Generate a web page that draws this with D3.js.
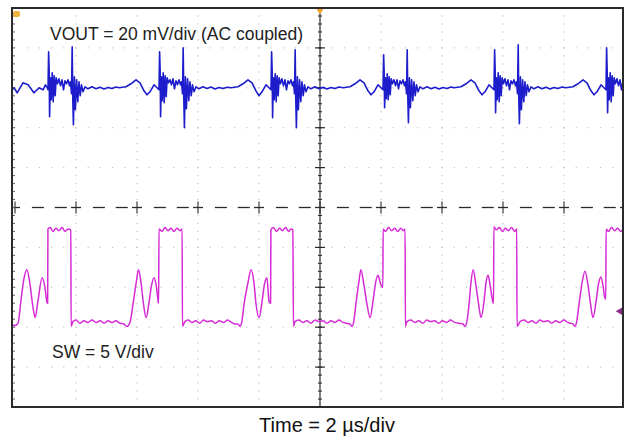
<!DOCTYPE html>
<html>
<head>
<meta charset="utf-8">
<script src="https://cdn.jsdelivr.net/npm/d3@7"></script>
<style>
  html, body { margin: 0; padding: 0; background: #fff; }
  svg { display: block; font-family: "Liberation Sans", Arial, Helvetica, sans-serif; }
</style>
</head>
<body>
<svg id="chart" width="625" height="438"></svg>
<script>
// ---------------- DATA ----------------
// Time axis: 2 µs/div, 10 divisions
const timeDomainUs = [0, 20];
const timeGridUs = [2, 4, 6, 8, 10, 12, 14, 16, 18];
// Vertical graticule: 10 divisions (-5..+5)
const divDomain = [-5, 5];
const divGrid = [-4, -3, -2, -1, 1, 2, 3, 4];

// Channel settings
const voutMvPerDiv = 20;    // VOUT = 20 mV/div (AC coupled)
const voutOffsetDiv = 3;
const swVoltsPerDiv = 5;    // SW = 5 V/div
const swOffsetDiv = -2.6;

// Labels
const voutLabel = "VOUT = 20 mV/div (AC coupled)";
const swLabel = "SW = 5 V/div";
const timeLabel = "Time = 2 µs/div";

// VOUT trace: [time µs, mV]
const voutTrace = [
  [-0.10,-1],[-0.03,0],[0.07,-2.5],[0.26,2.5],[0.43,1.5],[0.62,-2.5],[0.79,0],[0.92,-1],[1.00,1.5],[1.06,0],
  [1.082,-1],[1.102,18],[1.121,8],[1.134,-14.5],[1.161,5],[1.187,-6],[1.220,7.5],[1.252,-7],[1.285,6],[1.318,-4],
  [1.351,5],[1.393,2],[1.443,4.5],[1.492,1],[1.541,4],[1.590,-1],[1.639,3.5],[1.689,2],[1.738,4],[1.787,1],
  [1.820,3],[1.852,-3],[1.875,20.5],[1.895,-6],[1.915,-18.5],[1.948,5.5],[1.980,-11],[2.020,4],[2.059,-7],[2.098,3],
  [2.138,-4],[2.180,1.5],[2.230,-2],[2.295,0.5],[2.393,-0.5],[2.525,0.5],[2.656,-0.5],[2.787,0.3],[2.918,-0.6],[3.049,0.2],
  [3.180,-0.4],[3.312,0.4],
  [3.410,0],[3.639,0.5],[3.803,2],[3.967,4],[4.098,2.5],[4.229,-1.5],[4.328,-3.5],[4.426,-2],[4.557,1.5],[4.655,0],
  [4.721,-1],[4.741,18],[4.760,8],[4.773,-14.5],[4.800,5.5],[4.826,-6.5],[4.859,7.5],[4.891,-7.5],[4.924,6],[4.957,-4.5],
  [4.990,5],[5.032,2.5],[5.082,4],[5.131,1.5],[5.180,4.5],[5.229,-0.5],[5.278,3.5],[5.328,1.5],[5.377,4],[5.426,1.5],
  [5.459,3],[5.491,-3],[5.514,20],[5.534,-5],[5.554,-20],[5.587,5.5],[5.619,-10.5],[5.659,4.5],[5.698,-6.5],[5.737,3],
  [5.777,-4],[5.819,1.5],[5.869,-2],[5.934,0.5],[6.032,-0.5],[6.164,0.5],[6.295,-0.3],[6.426,0.4],[6.557,-0.6],[6.688,0.2],
  [6.819,-0.4],[6.951,0.3],
  [7.082,0],[7.311,0.5],[7.475,2],[7.639,4],[7.770,2.5],[7.901,-1.5],[8.000,-4],[8.098,-2],[8.229,1.5],[8.327,0],
  [8.393,-1],[8.413,18],[8.432,8],[8.445,-15],[8.472,5],[8.498,-6],[8.531,7],[8.563,-7],[8.596,6],[8.629,-4],
  [8.662,5],[8.704,2],[8.754,4.5],[8.803,1],[8.852,4],[8.901,-1],[8.950,3.5],[9.000,2],[9.049,4],[9.098,1],
  [9.131,3],[9.163,-3],[9.186,19],[9.206,-6],[9.226,-20],[9.259,5.5],[9.291,-11],[9.331,4],[9.370,-7],[9.409,3],
  [9.449,-4],[9.491,1.5],[9.541,-2],[9.606,0.5],[9.704,-0.5],[9.836,0.5],[9.967,-0.5],[10.098,0.3],[10.229,-0.6],[10.360,0.2],
  [10.491,-0.4],[10.623,0.4],
  [10.755,0],[10.984,0.5],[11.148,2],[11.312,4],[11.443,2.5],[11.574,-1.5],[11.673,-3.5],[11.771,-2],[11.902,1.5],[12.000,0],
  [12.066,-1],[12.086,16.5],[12.105,7],[12.118,-10],[12.145,5],[12.171,-5.5],[12.204,7],[12.236,-6],[12.269,5.5],[12.302,-3.5],
  [12.335,4.5],[12.377,2],[12.427,4],[12.476,1],[12.525,4],[12.574,-0.5],[12.623,3.5],[12.673,2],[12.722,4],[12.771,1],
  [12.804,3],[12.836,-3],[12.859,19],[12.879,-5],[12.899,-17.5],[12.932,5],[12.964,-10],[13.004,4],[13.043,-6.5],[13.082,3],
  [13.122,-4],[13.164,1.5],[13.214,-2],[13.279,0.5],[13.377,-0.5],[13.509,0.5],[13.640,-0.5],[13.771,0.3],[13.902,-0.6],[14.033,0.2],
  [14.164,-0.4],[14.296,0.4],
  [14.394,0],[14.623,0.5],[14.787,2],[14.951,4],[15.082,2.5],[15.213,-1.5],[15.312,-3.5],[15.410,-2],[15.541,1.5],[15.639,0],
  [15.705,-1],[15.725,19],[15.744,8],[15.757,-12.5],[15.784,5],[15.810,-6],[15.843,7.5],[15.875,-7],[15.908,6],[15.941,-4],
  [15.974,5],[16.016,2],[16.066,4.5],[16.115,1],[16.164,4],[16.213,-1],[16.262,3.5],[16.312,2],[16.361,4],[16.410,1],
  [16.443,3],[16.475,-3],[16.498,21.5],[16.518,-6],[16.538,-18],[16.571,5.5],[16.603,-11],[16.643,4],[16.682,-7],[16.721,3],
  [16.761,-4],[16.803,1.5],[16.853,-2],[16.918,0.5],[17.016,-0.5],[17.148,0.5],[17.279,-0.5],[17.410,0.3],[17.541,-0.6],[17.672,0.2],
  [17.803,-0.4],[17.935,0.4],
  [18.066,0],[18.295,0.5],[18.459,2],[18.623,4],[18.754,2.5],[18.885,-1.5],[18.984,-3.5],[19.082,-2],[19.213,1.5],[19.311,0],
  [19.377,-1],[19.397,20],[19.416,8],[19.429,-12.5],[19.456,5],[19.482,-6],[19.515,7.5],[19.547,-7],[19.580,6],[19.613,-4],
  [19.646,5],[19.688,2],[19.738,4.5],[19.787,1],[19.836,4],[19.885,-1],[19.934,3.5],[19.984,2]
];

// SW trace: [time µs, volts]
const swTrace = [
  [-0.10,-1.7],[0.00,-1.8],[0.10,-1.5],[0.20,1.5],[0.30,4.2],[0.39,5.2],[0.49,3.4],[0.59,0.5],[0.66,-0.8],[0.75,1.2],
  [0.89,4.2],[0.98,3.0],[1.05,1.1],[1.07,1.0],[1.08,10.3],
  [1.15,10.5],[1.25,10.0],[1.34,10.4],[1.44,10.1],[1.54,10.5],[1.64,10.0],[1.74,10.3],[1.83,10.2],[1.84,-1.9],
  [1.90,-1.3],[2.00,-1.1],[2.13,-1.5],[2.26,-1.2],[2.39,-1.4],[2.52,-1.1],[2.66,-1.4],[2.79,-1.2],[2.92,-1.5],[3.05,-1.2],
  [3.18,-1.4],[3.31,-1.2],[3.44,-1.5],[3.57,-1.6],[3.67,-1.9],[3.77,-1.4],
  [3.87,0.9],[3.97,3.5],[4.05,5.2],[4.13,3.6],[4.21,1.0],[4.30,-0.8],[4.39,1.0],[4.48,3.3],[4.56,4.2],[4.64,3.0],
  [4.70,1.1],[4.71,1.0],[4.72,10.3],
  [4.82,10.0],[4.92,10.5],[5.02,10.1],[5.11,10.4],[5.21,10.0],[5.31,10.4],[5.41,10.1],[5.48,10.3],[5.49,-1.9],
  [5.57,-1.3],[5.68,-1.1],[5.80,-1.4],[5.92,-1.2],[6.05,-1.5],[6.18,-1.1],[6.31,-1.3],[6.44,-1.2],[6.57,-1.5],[6.70,-1.2],
  [6.84,-1.4],[6.97,-1.1],[7.10,-1.4],[7.22,-1.6],[7.31,-1.6],[7.38,-1.9],[7.44,-1.2],
  [7.51,0.9],[7.64,3.6],[7.74,5.2],[7.84,3.4],[7.90,1.0],[8.00,-0.8],[8.10,1.2],[8.18,3.4],[8.26,4.2],[8.33,1.2],
  [8.38,1.0],[8.39,10.2],
  [8.47,10.5],[8.57,10.0],[8.67,10.4],[8.77,10.1],[8.87,10.5],[8.97,10.0],[9.05,10.3],[9.11,10.2],[9.13,-1.9],
  [9.18,-1.3],[9.31,-1.1],[9.44,-1.4],[9.57,-1.2],[9.70,-1.5],[9.84,-1.1],[9.97,-1.3],[10.10,-1.2],[10.23,-1.5],[10.36,-1.2],
  [10.49,-1.4],[10.62,-1.1],[10.75,-1.4],[10.87,-1.5],[10.98,-1.6],[11.05,-1.9],[11.11,-1.2],
  [11.18,1.0],[11.28,3.8],[11.34,5.2],[11.44,3.3],[11.54,0.9],[11.64,-0.8],[11.74,1.3],[11.82,3.5],[11.90,4.5],[11.98,3.5],
  [12.03,3.1],[12.06,3.0],[12.07,10.3],
  [12.15,10.0],[12.25,10.5],[12.35,10.1],[12.45,10.4],[12.55,10.0],[12.65,10.4],[12.73,10.1],[12.79,10.3],[12.80,-1.9],
  [12.85,-1.3],[12.98,-1.1],[13.11,-1.4],[13.24,-1.2],[13.37,-1.5],[13.50,-1.1],[13.63,-1.3],[13.76,-1.2],[13.89,-1.5],[14.02,-1.2],
  [14.15,-1.4],[14.28,-1.1],[14.41,-1.4],[14.55,-1.5],[14.69,-1.6],[14.75,-1.9],[14.82,-1.2],
  [14.89,1.0],[14.95,3.6],[15.02,5.2],[15.11,3.3],[15.20,0.9],[15.28,-0.8],[15.38,1.3],[15.44,3.5],[15.51,4.5],[15.59,3.0],
  [15.67,1.1],[15.69,1.0],[15.70,10.6],
  [15.78,10.2],[15.88,10.5],[15.98,10.0],[16.08,10.4],[16.18,10.1],[16.28,10.5],[16.38,10.0],[16.45,10.3],[16.46,-1.9],
  [16.56,-1.3],[16.69,-1.1],[16.82,-1.4],[16.95,-1.2],[17.08,-1.5],[17.21,-1.1],[17.34,-1.3],[17.47,-1.2],[17.60,-1.5],[17.73,-1.2],
  [17.86,-1.4],[17.99,-1.1],[18.12,-1.4],[18.22,-1.5],[18.30,-1.6],[18.36,-1.9],[18.42,-1.2],
  [18.49,0.8],[18.59,3.5],[18.69,5.0],[18.79,3.2],[18.87,0.9],[18.95,-0.8],[19.05,1.2],[19.13,3.4],[19.21,4.3],[19.28,3.2],
  [19.33,1.8],[19.37,1.5],[19.38,10.3],
  [19.46,10.0],[19.56,10.5],[19.66,10.1],[19.76,10.4],[19.86,10.0],[19.96,10.3],[20.0,10.2]
];

// ---------------- LAYOUT ----------------
const svg = d3.select("#chart");
const frame = { left: 12, top: 8, right: 623, bottom: 407 };
const x = d3.scaleLinear().domain(timeDomainUs).range([15, 625]);
const y = d3.scaleLinear().domain(divDomain).range([407, 8]);
const minorT = 0.4;   // 1/5 division in µs
const minorD = 0.2;   // 1/5 division vertical

svg.append("defs").append("clipPath").attr("id", "plotClip")
  .append("rect")
  .attr("x", frame.left).attr("y", frame.top)
  .attr("width", frame.right - frame.left).attr("height", frame.bottom - frame.top);

const g = svg.append("g").attr("clip-path", "url(#plotClip)");

// dotted graticule (faint)
const dots = g.append("g").attr("fill", "#c4c4c4");
timeGridUs.forEach(t => {
  d3.range(-5, 5.001, minorD).forEach(d => {
    dots.append("rect").attr("x", x(t) - 0.6).attr("y", y(d) - 0.6).attr("width", 1.2).attr("height", 1.2);
  });
});
divGrid.forEach(d => {
  d3.range(0, 20.001, minorT).forEach(t => {
    dots.append("rect").attr("x", x(t) - 0.6).attr("y", y(d) - 0.6).attr("width", 1.2).attr("height", 1.2);
  });
});

// center axes
const axisC = "#2a2a2a";
const cx = x(10), cy = y(0);
g.append("line").attr("x1", cx).attr("x2", cx).attr("y1", frame.top).attr("y2", frame.bottom)
  .attr("stroke", axisC).attr("stroke-width", 1.2);
d3.range(-5, 5.001, minorD).forEach(d => {
  g.append("line").attr("x1", cx - 2).attr("x2", cx + 2).attr("y1", y(d)).attr("y2", y(d))
    .attr("stroke", axisC).attr("stroke-width", 1);
});
divGrid.forEach(d => {
  g.append("line").attr("x1", cx - 5).attr("x2", cx + 5).attr("y1", y(d)).attr("y2", y(d))
    .attr("stroke", axisC).attr("stroke-width", 1.2);
});
// horizontal center dashed axis: a short bar at each major, two dashes in between
d3.range(0, 20.001, 2).forEach(t => {
  g.append("line").attr("x1", x(t) - 5).attr("x2", x(t) + 5).attr("y1", cy).attr("y2", cy)
    .attr("stroke", axisC).attr("stroke-width", 1.3);
  [0.75, 1.5].forEach(o => {
    g.append("line").attr("x1", x(t + o) - 6).attr("x2", x(t + o) + 6).attr("y1", cy).attr("y2", cy)
      .attr("stroke", axisC).attr("stroke-width", 1.3);
  });
  g.append("line").attr("x1", x(t)).attr("x2", x(t)).attr("y1", cy - 6).attr("y2", cy + 6)
    .attr("stroke", axisC).attr("stroke-width", 1.1);
});
// left edge ticks
d3.range(-5, 5.001, minorD).forEach(d => {
  g.append("line").attr("x1", frame.left).attr("x2", frame.left + 3).attr("y1", y(d)).attr("y2", y(d))
    .attr("stroke", "#666").attr("stroke-width", 1);
});

// traces
const voutLine = d3.line()
  .x(d => x(d[0]))
  .y(d => y(d[1] / voutMvPerDiv + voutOffsetDiv));
const swLine = d3.line()
  .curve(d3.curveMonotoneX)
  .x(d => x(d[0]))
  .y(d => y(d[1] / swVoltsPerDiv + swOffsetDiv));

g.append("path").datum(swTrace).attr("d", swLine)
  .attr("fill", "none").attr("stroke", "#d62ad6").attr("stroke-width", 1.5).attr("stroke-linejoin", "round");
g.append("path").datum(voutTrace).attr("d", voutLine)
  .attr("fill", "none").attr("stroke", "#1d1dcc").attr("stroke-width", 1.6).attr("stroke-linejoin", "round");

// markers
svg.append("rect").attr("x", 13).attr("y", 11).attr("width", 7).attr("height", 6).attr("rx", 2)
  .attr("fill", "#f0b040");
svg.append("path")
  .attr("d", d3.symbol(d3.symbolTriangle, 30)())
  .attr("transform", `translate(${cx},${frame.top + 2}) rotate(180)`)
  .attr("fill", "#f0a030");
svg.append("path")
  .attr("d", d3.symbol(d3.symbolTriangle, 24)())
  .attr("transform", `translate(${frame.right - 3},${y(swOffsetDiv)}) rotate(-90)`)
  .attr("fill", "#8a2a8a");

// frame
svg.append("rect")
  .attr("x", frame.left).attr("y", frame.top)
  .attr("width", frame.right - frame.left).attr("height", frame.bottom - frame.top)
  .attr("fill", "none").attr("stroke", "#2b2b2b").attr("stroke-width", 2);

// texts
svg.append("text").attr("x", 50).attr("y", 40).attr("font-size", 17.5).attr("fill", "#222")
  .text(voutLabel);
svg.append("text").attr("x", 52).attr("y", 358).attr("font-size", 17.5).attr("fill", "#222")
  .text(swLabel);
svg.append("text").attr("x", 327).attr("y", 432).attr("font-size", 20).attr("fill", "#111")
  .attr("text-anchor", "middle").text(timeLabel);
</script>
</body>
</html>
